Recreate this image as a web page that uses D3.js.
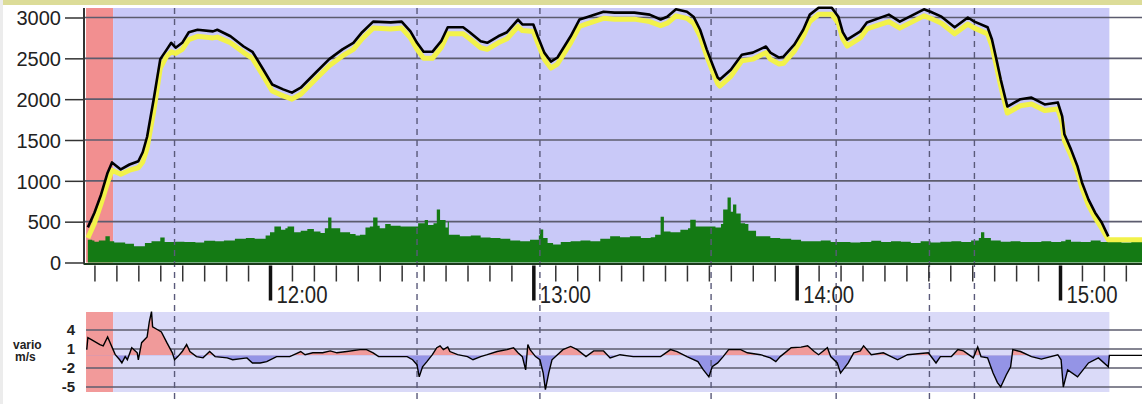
<!DOCTYPE html>
<html><head><meta charset="utf-8">
<script src="https://cdn.jsdelivr.net/npm/d3@7"></script>
<style>html,body{margin:0;padding:0;background:#fff;overflow:hidden}</style>
</head><body><svg id="c" width="1142" height="404"></svg>
<script>
// ---- DATA ----
const altitudeBaro = [["11:18:30",430],["11:20:00",610],["11:21:30",830],["11:23:00",1100],["11:24:00",1225],["11:26:00",1140],["11:28:00",1200],["11:30:00",1240],["11:31:00",1350],["11:32:00",1540],["11:33:30",2000],["11:35:00",2490],["11:36:30",2610],["11:37:30",2690],["11:38:30",2630],["11:40:00",2690],["11:41:30",2820],["11:43:30",2850],["11:47:00",2830],["11:48:00",2850],["11:51:00",2770],["11:54:00",2645],["11:56:00",2580],["11:58:30",2360],["12:00:30",2180],["12:03:00",2120],["12:05:00",2080],["12:07:00",2140],["12:10:30",2330],["12:13:30",2490],["12:16:30",2610],["12:19:00",2690],["12:21:00",2820],["12:23:30",2950],["12:27:30",2940],["12:30:00",2950],["12:32:00",2830],["12:33:30",2690],["12:35:00",2580],["12:37:00",2580],["12:39:00",2710],["12:40:30",2880],["12:44:00",2880],["12:45:30",2820],["12:48:00",2710],["12:49:30",2690],["12:52:00",2770],["12:54:00",2820],["12:56:30",2975],["12:57:30",2915],["13:00:00",2915],["13:01:00",2770],["13:02:30",2570],["13:04:00",2460],["13:05:30",2510],["13:08:30",2770],["13:10:30",2975],["13:12:00",3000],["13:16:00",3070],["13:18:30",3060],["13:23:00",3060],["13:26:30",3035],["13:29:00",2975],["13:30:30",3010],["13:32:30",3100],["13:35:00",3070],["13:36:30",3010],["13:38:00",2850],["13:39:30",2610],["13:41:00",2400],["13:42:00",2265],["13:42:30",2240],["13:45:00",2360],["13:47:30",2545],["13:50:00",2570],["13:53:00",2645],["13:54:00",2570],["13:56:00",2510],["13:57:00",2520],["13:59:30",2670],["14:01:30",2850],["14:03:00",3035],["14:05:00",3120],["14:08:00",3120],["14:09:30",3010],["14:10:30",2820],["14:11:30",2730],["14:14:30",2830],["14:16:00",2940],["14:21:00",3035],["14:23:30",2950],["14:29:00",3100],["14:30:30",3070],["14:33:00",3010],["14:36:00",2880],["14:39:00",3000],["14:40:30",2950],["14:43:30",2880],["14:44:30",2730],["14:45:30",2490],["14:46:30",2240],["14:48:00",1910],["14:51:00",2000],["14:53:30",2020],["14:56:30",1935],["14:59:30",1960],["15:00:30",1790],["15:01:00",1570],["15:02:30",1385],["15:04:00",1175],["15:05:00",980],["15:06:30",770],["15:08:00",610],["15:09:30",490],["15:11:00",320]];

const altitudeGps = [["11:18:30",300],["11:20:00",480],["11:21:30",720],["11:23:00",980],["11:24:00",1130],["11:26:00",1080],["11:28:00",1130],["11:30:00",1160],["11:31:00",1230],["11:32:00",1400],["11:33:30",1850],["11:35:00",2380],["11:36:30",2530],["11:37:30",2580],["11:38:30",2560],["11:40:00",2610],["11:41:30",2730],["11:43:30",2770],["11:47:00",2750],["11:48:00",2760],["11:51:00",2690],["11:54:00",2570],["11:56:00",2500],["11:58:30",2280],["12:00:30",2100],["12:03:00",2040],["12:05:00",2000],["12:07:00",2060],["12:10:30",2250],["12:13:30",2410],["12:16:30",2530],["12:19:00",2610],["12:21:00",2740],["12:23:30",2870],["12:27:30",2860],["12:30:00",2870],["12:32:00",2750],["12:33:30",2610],["12:35:00",2500],["12:37:00",2500],["12:39:00",2630],["12:40:30",2800],["12:44:00",2800],["12:45:30",2740],["12:48:00",2630],["12:49:30",2610],["12:52:00",2690],["12:54:00",2740],["12:56:30",2890],["12:57:30",2840],["13:00:00",2830],["13:01:00",2690],["13:02:30",2490],["13:04:00",2380],["13:05:30",2430],["13:08:30",2690],["13:10:30",2890],["13:12:00",2920],["13:16:00",2990],["13:18:30",2980],["13:23:00",2980],["13:26:30",2950],["13:29:00",2900],["13:30:30",2930],["13:32:30",3020],["13:35:00",2990],["13:36:30",2930],["13:38:00",2770],["13:39:30",2530],["13:41:00",2320],["13:42:00",2190],["13:42:30",2160],["13:45:00",2280],["13:47:30",2470],["13:50:00",2490],["13:53:00",2570],["13:54:00",2490],["13:56:00",2430],["13:57:00",2440],["13:59:30",2590],["14:01:30",2770],["14:03:00",2950],["14:05:00",3040],["14:08:00",3040],["14:09:30",2930],["14:10:30",2740],["14:11:30",2650],["14:14:30",2750],["14:16:00",2860],["14:21:00",2950],["14:23:30",2870],["14:29:00",3020],["14:30:30",2990],["14:33:00",2930],["14:36:00",2800],["14:39:00",2920],["14:40:30",2870],["14:43:30",2800],["14:44:30",2650],["14:45:30",2410],["14:46:30",2160],["14:48:00",1830],["14:51:00",1920],["14:53:30",1940],["14:56:30",1860],["14:59:30",1880],["15:00:30",1710],["15:01:00",1490],["15:02:30",1310],["15:04:00",1100],["15:05:00",910],["15:06:30",700],["15:08:00",550],["15:09:30",420],["15:11:00",280],["15:19:00",280]];

const greenSeries = [["11:18:30",280],["11:19:30",270],["11:20:00",255],["11:21:00",270],["11:22:30",320],["11:23:30",260],["11:24:30",245],["11:27:00",230],["11:29:00",200],["11:31:30",240],["11:33:00",260],["11:35:00",305],["11:36:00",250],["11:38:30",255],["11:40:30",250],["11:43:00",245],["11:45:00",265],["11:47:30",260],["11:49:30",270],["11:52:00",290],["11:54:30",300],["11:56:30",290],["11:59:00",330],["12:00:00",370],["12:01:00",440],["12:02:30",400],["12:03:30",420],["12:04:00",440],["12:05:30",370],["12:07:00",390],["12:08:30",410],["12:10:00",380],["12:11:30",360],["12:12:30",420],["12:13:15",550],["12:14:00",420],["12:16:00",370],["12:18:15",350],["12:19:30",330],["12:20:30",340],["12:21:45",430],["12:22:45",440],["12:23:30",550],["12:24:30",450],["12:25:00",420],["12:26:15",470],["12:27:30",450],["12:29:45",440],["12:32:00",440],["12:33:45",480],["12:35:15",520],["12:36:00",460],["12:37:15",480],["12:38:00",650],["12:38:45",520],["12:40:00",430],["12:40:30",500],["12:40:45",340],["12:43:15",320],["12:45:45",330],["12:48:00",305],["12:50:15",300],["12:52:30",290],["12:54:45",270],["12:57:00",260],["12:59:15",280],["13:01:15",330],["13:01:30",405],["13:02:15",300],["13:03:15",240],["13:04:30",220],["13:06:15",250],["13:08:30",260],["13:10:45",270],["13:13:00",260],["13:15:15",290],["13:17:30",320],["13:19:45",310],["13:22:00",320],["13:24:30",300],["13:26:45",310],["13:27:45",340],["13:29:00",560],["13:29:45",380],["13:31:15",370],["13:33:30",400],["13:35:15",420],["13:35:45",525],["13:37:00",440],["13:39:15",440],["13:41:30",430],["13:42:45",470],["13:43:15",650],["13:44:15",795],["13:45:00",620],["13:45:30",710],["13:46:15",600],["13:47:15",480],["13:48:15",470],["13:49:00",390],["13:50:45",320],["13:54:00",300],["13:56:15",290],["13:58:45",280],["14:01:00",260],["14:03:15",260],["14:05:30",270],["14:07:45",250],["14:10:00",250],["14:12:15",245],["14:14:30",250],["14:17:00",265],["14:19:15",250],["14:21:30",260],["14:23:45",255],["14:26:00",240],["14:28:15",260],["14:30:30",245],["14:32:45",255],["14:35:15",260],["14:37:30",250],["14:39:45",270],["14:41:30",300],["14:42:00",370],["14:42:45",300],["14:44:15",270],["14:46:30",255],["14:48:45",260],["14:51:00",250],["14:53:30",250],["14:55:45",260],["14:58:00",250],["15:00:15",260],["15:01:15",280],["15:02:30",255],["15:04:45",250],["15:07:00",270],["15:09:15",250],["15:11:30",255],["15:14:00",245],["15:16:15",250],["15:19:00",250]];

const vario = [["11:18:15",0.9],["11:18:30",2.8],["11:19:30",2.4],["11:21:15",1.7],["11:22:00",1.5],["11:23:00",2.9],["11:23:30",2.1],["11:24:15",0.9],["11:24:45",0.1],["11:25:45",-0.7],["11:26:15",-1.2],["11:27:00",-0.2],["11:27:30",-0.7],["11:28:30",1.2],["11:29:45",0.4],["11:30:00",-0.7],["11:30:45",2.0],["11:32:00",2.9],["11:32:30",5.3],["11:33:00",6.9],["11:33:15",4.5],["11:34:30",4.0],["11:35:15",3.7],["11:36:30",2.0],["11:37:45",0.4],["11:38:15",-0.7],["11:39:00",-0.2],["11:40:00",0.6],["11:41:00",1.7],["11:41:45",0.6],["11:43:15",-0.2],["11:44:45",-0.4],["11:46:15",0.6],["11:47:30",-0.2],["11:50:15",-0.4],["11:51:30",-0.7],["11:54:45",-0.4],["11:56:00",-1.2],["11:57:45",-1.2],["11:59:15",-1.0],["12:01:30",-0.2],["12:04:30",-0.2],["12:05:45",0.2],["12:07:00",0.6],["12:08:00",0.1],["12:09:45",0.4],["12:12:00",0.4],["12:13:45",0.7],["12:15:15",0.4],["12:17:30",0.6],["12:20:30",0.9],["12:22:00",0.9],["12:23:30",0.4],["12:24:45",-0.2],["12:29:00",-0.2],["12:31:15",-0.2],["12:32:30",-0.7],["12:33:30",-1.5],["12:34:00",-3.4],["12:34:45",-1.8],["12:35:45",-1.0],["12:37:00",0.1],["12:38:00",1.2],["12:38:45",1.5],["12:39:30",0.9],["12:40:30",1.3],["12:41:00",0.6],["12:42:45",0.1],["12:45:00",-0.2],["12:46:15",-0.7],["12:48:00",-0.2],["12:49:30",0.1],["12:51:45",0.6],["12:54:00",0.9],["12:55:30",1.2],["12:56:30",0.4],["12:57:30",-0.2],["12:58:15",-2.3],["12:58:45",1.7],["12:59:15",0.9],["13:00:30",-0.2],["13:01:30",-0.7],["13:02:15",-2.8],["13:02:45",-5.4],["13:03:30",-2.8],["13:04:15",-0.7],["13:05:30",0.1],["13:06:45",0.9],["13:08:30",1.4],["13:10:00",0.9],["13:12:00",-0.2],["13:13:45",0.7],["13:16:00",0.7],["13:17:30",-0.4],["13:19:45",0.1],["13:22:45",-0.2],["13:26:00",-0.2],["13:29:00",-0.2],["13:31:15",0.9],["13:32:45",0.6],["13:35:00",-0.2],["13:37:30",-1.0],["13:38:45",-2.3],["13:40:00",-3.4],["13:40:45",-1.8],["13:42:00",-1.2],["13:43:15",-0.2],["13:44:30",0.9],["13:47:15",0.9],["13:48:45",0.4],["13:51:45",0.1],["13:54:00",-0.4],["13:55:15",-1.0],["13:56:15",-0.2],["13:58:45",1.2],["14:01:00",1.3],["14:02:30",1.5],["14:04:00",0.6],["14:05:00",0.1],["14:07:00",1.2],["14:07:45",-0.2],["14:09:15",-1.2],["14:10:00",-2.8],["14:11:45",-1.2],["14:13:00",0.4],["14:14:30",0.7],["14:15:15",1.5],["14:17:00",0.1],["14:19:45",0.4],["14:23:00",-0.7],["14:25:15",0.1],["14:30:00",0.4],["14:31:45",-1.2],["14:32:45",-0.2],["14:35:15",-0.2],["14:36:45",0.9],["14:38:00",0.7],["14:40:15",-0.4],["14:41:15",1.3],["14:42:00",-0.2],["14:43:30",-0.4],["14:44:45",-2.8],["14:45:45",-4.3],["14:46:30",-5.0],["14:47:45",-3.1],["14:48:45",-1.8],["14:49:15",0.9],["14:51:00",0.6],["14:53:30",-0.2],["14:55:45",-0.6],["14:59:30",0.1],["15:00:15",-0.7],["15:00:45",-5.0],["15:01:45",-2.3],["15:04:00",-3.4],["15:06:30",-1.2],["15:08:45",-0.4],["15:11:00",-1.8],["15:11:15",0.0],["15:19:00",0.0]];

const altTicks = [0, 500, 1000, 1500, 2000, 2500, 3000];
const varioTicks = [4, 1, -2, -5];
const hourTicks = ["12:00:00", "13:00:00", "14:00:00", "15:00:00"];
const markerTimes = ["11:38:15", "12:33:30", "13:01:30", "13:40:30", "14:09:00", "14:30:15", "14:40:30"];
const phaseTimes = { start: "11:18:05", towEnd: "11:24:15", flightEnd: "15:11:15", end: "15:19:00" };

// ---- DRAW ----
const svg = d3.select("#c");
const tp = d3.timeParse("%H:%M:%S");
const x = d3.scaleTime().domain([tp("12:00:00"), tp("15:00:00")]).range([270, 1060]);
const y = d3.scaleLinear().domain([0, 3000]).range([262.5, 17.5]);
const yv = d3.scaleLinear().domain([-5, 4]).range([387, 330]);
const W = 1142, topY = 8, vTop = 312, vBot = 392;

const xs = x(tp(phaseTimes.start)), xt = x(tp(phaseTimes.towEnd)), xf = x(tp(phaseTimes.flightEnd));

// top strip
svg.append("rect").attr("x",0).attr("y",0).attr("width",W).attr("height",5).attr("fill","#dcdc98");
svg.append("rect").attr("x",0).attr("y",0).attr("width",3).attr("height",404).attr("fill","#ececec");

// top panel backgrounds
svg.append("rect").attr("x",xs).attr("y",topY).attr("width",xt-xs).attr("height",y(0)-topY).attr("fill","#f28f90");
svg.append("rect").attr("x",xt).attr("y",topY).attr("width",xf-xt).attr("height",y(0)-topY).attr("fill","#c9c9f8");

// vario backgrounds
svg.append("rect").attr("x",xs).attr("y",vTop).attr("width",xt-xs).attr("height",vBot-vTop).attr("fill","#f29a9a");
svg.append("rect").attr("x",xt).attr("y",vTop).attr("width",xf-xt).attr("height",vBot-vTop).attr("fill","#dadaf8");

// top gridlines
svg.append("g").selectAll("line").data(altTicks.filter(d=>d>0)).join("line")
  .attr("x1",84).attr("x2",W).attr("y1",d=>y(d)).attr("y2",d=>y(d))
  .attr("stroke","#5c5c6e").attr("stroke-width",1.6);

// green area
svg.append("path").datum(greenSeries)
  .attr("d", d3.area().curve(d3.curveStepAfter).x(d=>x(tp(d[0]))).y0(y(0)).y1(d=>y(d[1])))
  .attr("fill","#147a14");

// vario gridlines
svg.append("g").selectAll("line").data(varioTicks).join("line")
  .attr("x1",xs).attr("x2",W).attr("y1",d=>yv(d)).attr("y2",d=>yv(d))
  .attr("stroke","#5c5c6e").attr("stroke-width",1.6);

// vario fills
const defs = svg.append("defs");
defs.append("clipPath").attr("id","above").append("rect").attr("x",0).attr("y",0).attr("width",W).attr("height",yv(0));
defs.append("clipPath").attr("id","below").append("rect").attr("x",0).attr("y",yv(0)).attr("width",W).attr("height",404-yv(0));
const vArea = d3.area().x(d=>x(tp(d[0]))).y0(yv(0)).y1(d=>yv(d[1]));
svg.append("path").datum(vario).attr("d",vArea).attr("fill","#f09a9a").attr("clip-path","url(#above)");
svg.append("path").datum(vario).attr("d",vArea).attr("fill","#9494e6").attr("clip-path","url(#below)");

// dashed markers
svg.append("g").selectAll("line").data(markerTimes).join("line")
  .attr("x1",d=>x(tp(d))).attr("x2",d=>x(tp(d))).attr("y1",topY).attr("y2",404)
  .attr("stroke","#5a5a7a").attr("stroke-width",1.4).attr("stroke-dasharray","6,5");

// altitude lines
svg.append("path").datum(altitudeGps)
  .attr("d", d3.line().x(d=>x(tp(d[0]))).y(d=>y(d[1])))
  .attr("fill","none").attr("stroke","#f2f24a").attr("stroke-width",5).attr("stroke-linejoin","round");
svg.append("path").datum(altitudeBaro)
  .attr("d", d3.line().x(d=>x(tp(d[0]))).y(d=>y(d[1])))
  .attr("fill","none").attr("stroke","#000").attr("stroke-width",2.6).attr("stroke-linejoin","round");

// vario line
svg.append("path").datum(vario)
  .attr("d", d3.line().x(d=>x(tp(d[0]))).y(d=>yv(d[1])))
  .attr("fill","none").attr("stroke","#000").attr("stroke-width",1.4);

// y axis
const yAx = svg.append("g").attr("transform","translate(84,0)")
  .call(d3.axisLeft(y).tickValues(altTicks).tickSize(19).tickPadding(4).tickFormat(d3.format("d")));
yAx.select(".domain").remove();
yAx.selectAll(".tick line").attr("stroke","#333").attr("stroke-width",1.5);
yAx.selectAll(".tick text").attr("font-family","'Liberation Sans', Arial, sans-serif").attr("font-size",20).attr("fill","#222").attr("dy","0.36em");
svg.append("line").attr("x1",84).attr("x2",84).attr("y1",topY).attr("y2",y(0)+2).attr("stroke","#333").attr("stroke-width",2);

// x axis baseline
svg.append("line").attr("x1",84).attr("x2",W).attr("y1",y(0)+1.5).attr("y2",y(0)+1.5).attr("stroke","#1c3a1c").attr("stroke-width",2);

// minor ticks
const minor = d3.timeMinute.every(5).range(tp("11:20:00"), tp("15:16:00")).filter(d=>d.getMinutes()!==0);
const xAx = svg.append("g").attr("transform",`translate(0,${y(0)+3})`)
  .call(d3.axisBottom(x).tickValues(minor).tickSize(16).tickFormat(""));
xAx.select(".domain").remove();
xAx.selectAll(".tick line").attr("stroke","#333").attr("stroke-width",1.5);

// hour ticks
const hours = hourTicks.map(tp);
const hAx = svg.append("g").attr("transform",`translate(0,${y(0)+3})`)
  .call(d3.axisBottom(x).tickValues(hours).tickSize(35).tickPadding(0).tickFormat(d3.timeFormat("%H:%M")));
hAx.select(".domain").remove();
hAx.selectAll(".tick line").attr("stroke","#111").attr("stroke-width",3.5);
hAx.selectAll(".tick text").attr("text-anchor","start").attr("x",6).attr("y",37).attr("dy",0)
  .attr("font-family","'Liberation Sans', Arial, sans-serif").attr("font-size",24).attr("fill","#222")
  .attr("textLength",51).attr("lengthAdjust","spacingAndGlyphs");

// vario labels
svg.append("g").selectAll("text").data(varioTicks).join("text")
  .attr("x",75).attr("y",d=>yv(d)).attr("dy","0.36em").attr("text-anchor","end")
  .attr("font-family","'Liberation Sans', Arial, sans-serif").attr("font-size",15).attr("font-weight","bold").attr("fill","#222")
  .text(d=>d);
svg.append("text").attr("x",13).attr("y",349).attr("font-family","'Liberation Sans', Arial, sans-serif")
  .attr("font-size",12).attr("font-weight","bold").attr("fill","#222").text("vario");
svg.append("text").attr("x",15).attr("y",361).attr("font-family","'Liberation Sans', Arial, sans-serif")
  .attr("font-size",12).attr("font-weight","bold").attr("fill","#222").text("m/s");
</script></body></html>
